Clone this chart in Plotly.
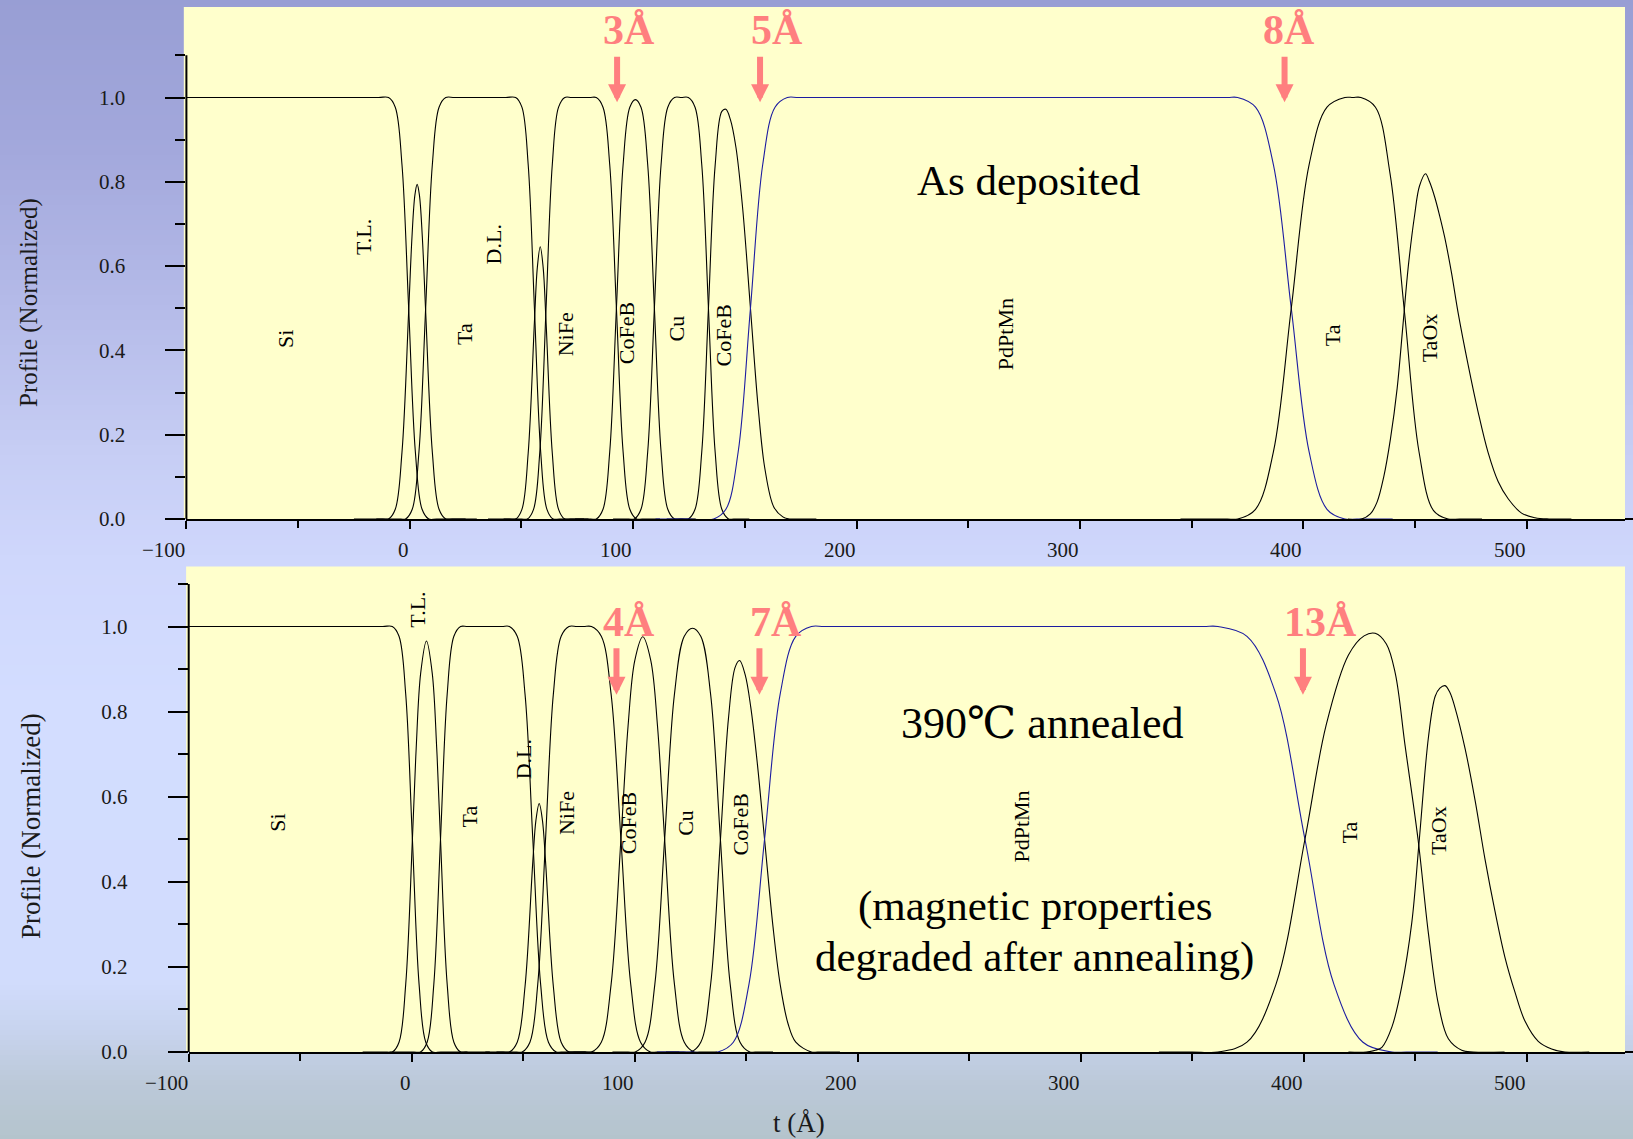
import plotly.graph_objects as go

# ---------------- data : top panel (as deposited) ----------------
TOP_SI_T = [-100, -40, -14, -9.5, -6.5, -3.5, -0.5, 2.5, 5.5, 8.5, 12, 25]
TOP_SI_V = [1, 1, 1, 1, 0.977, 0.841, 0.5, 0.159, 0.023, 0, 0, 0]
TOP_TL_T = [-25, -12, -9.5, -6.5, -3.5, -0.5, 1, 2.3, 3.3, 4.3, 5.6, 7.1, 10.1, 13.1, 16.1, 19, 30]
TOP_TL_V = [0, 0, 0, 0.023, 0.158, 0.493, 0.671, 0.769, 0.794, 0.769, 0.671, 0.493, 0.158, 0.023, 0, 0, 0]
TOP_TA_T = [-15, -4, -1.9, 1.1, 4.1, 7.1, 10.1, 13.1, 16.1, 20, 31, 43, 47.4, 50.2, 53, 55.8, 58.6, 61.4, 64.2, 67, 78]
TOP_TA_V = [0, 0, 0, 0.023, 0.159, 0.5, 0.841, 0.977, 1, 1, 1, 1, 1, 0.977, 0.841, 0.5, 0.159, 0.023, 0, 0, 0]
TOP_DL_T = [35, 44.6, 47.4, 50.2, 53, 55.8, 57.1, 58.4, 59.7, 61, 63.8, 66.6, 69.4, 72, 80]
TOP_DL_V = [0, 0, 0, 0.023, 0.156, 0.468, 0.597, 0.646, 0.597, 0.468, 0.156, 0.023, 0, 0, 0]
TOP_NIFE_T = [42, 50, 52.6, 55.4, 58.2, 61, 63.8, 66.6, 69.4, 72.5, 80.5, 83.5, 86.5, 89.5, 92.5, 95.5, 98.5, 101.5, 104, 112]
TOP_NIFE_V = [0, 0, 0, 0.023, 0.159, 0.5, 0.841, 0.977, 1, 1, 1, 1, 0.977, 0.841, 0.5, 0.159, 0.023, 0, 0, 0]
TOP_COFEB1_T = [74, 81, 83.5, 86.5, 89.5, 92.5, 95.5, 98.5, 101, 103.5, 106.5, 109.5, 112.5, 115.5, 118.5, 121, 128]
TOP_COFEB1_V = [0, 0, 0, 0.023, 0.159, 0.5, 0.841, 0.977, 0.995, 0.977, 0.841, 0.5, 0.159, 0.023, 0, 0, 0]
TOP_CU_T = [91, 98, 100.5, 103.5, 106.5, 109.5, 112.5, 115.5, 118.5, 121.6, 124.7, 127.7, 130.7, 133.7, 136.7, 139.7, 142.7, 145, 152]
TOP_CU_V = [0, 0, 0, 0.023, 0.159, 0.5, 0.841, 0.977, 1, 1, 1, 0.977, 0.841, 0.5, 0.159, 0.023, 0, 0, 0]
TOP_COFEB2_T = [115, 122, 124.7, 127.7, 130.7, 133.7, 136.7, 139.7, 141.5, 143.5, 146, 149, 152.5, 156, 159, 163, 167, 170, 173, 182]
TOP_COFEB2_V = [0, 0, 0, 0.023, 0.159, 0.5, 0.839, 0.967, 0.972, 0.948, 0.882, 0.738, 0.5, 0.262, 0.118, 0.028, 0.005, 0, 0, 0]
TOP_PDPTMN_T = [110, 125, 136, 141.5, 147, 152.5, 158, 163.5, 169, 174, 200, 340, 366, 370.6, 378.6, 386.6, 394.6, 402.6, 410.6, 418.6, 424, 440]
TOP_PDPTMN_V = [0, 0, 0, 0.023, 0.159, 0.5, 0.841, 0.977, 1, 1, 1, 1, 1, 1, 0.977, 0.841, 0.5, 0.159, 0.023, 0, 0, 0]
TOP_TA2_T = [345, 360, 366, 370.6, 378.6, 386.6, 394.6, 402.6, 410.6, 418.6, 422.2, 425.8, 432.3, 438.8, 445.3, 451.8, 458.3, 464.8, 470, 480]
TOP_TA2_V = [0, 0, 0, 0, 0.023, 0.159, 0.5, 0.841, 0.977, 1, 1, 1, 0.977, 0.82, 0.49, 0.159, 0.02, 0, 0, 0]
TOP_TAOX_T = [420, 426, 430, 433, 436, 439, 442, 444.6, 447, 449.8, 452, 454.7, 456.5, 458.8, 461, 463.3, 466.3, 469.3,
              473.8, 478.2, 482.7, 487.2, 491.7, 497.7, 503.7, 510, 520]
TOP_TAOX_V = [0, 0, 0.012, 0.04, 0.10, 0.19, 0.31, 0.46, 0.60, 0.72, 0.79, 0.819, 0.80, 0.764, 0.72, 0.668, 0.585, 0.489,
              0.365, 0.255, 0.158, 0.089, 0.048, 0.014, 0.003, 0, 0]

# ---------------- data : bottom panel (390 C annealed) ----------------
BOT_SI_T = [-100, -40, -13, -8.7, -5.7, -2.7, 0.3, 3.3, 6.3, 9.3, 13, 25]
BOT_SI_V = [1, 1, 1, 1, 0.977, 0.841, 0.5, 0.159, 0.023, 0, 0, 0]
BOT_TL_T = [-22, -11, -8.7, -5.7, -2.7, 0.3, 2, 4, 6.6, 9.2, 11.2, 12.9, 15.9, 18.9, 21.9, 24, 35]
BOT_TL_V = [0, 0, 0, 0.023, 0.159, 0.5, 0.714, 0.890, 0.966, 0.890, 0.714, 0.5, 0.159, 0.023, 0, 0, 0]
BOT_TA_T = [-10, 1, 3.9, 6.9, 9.9, 12.9, 15.9, 18.9, 21.9, 25, 33, 40.5, 43.8, 47.3, 50.8, 54.3, 57.8, 61.3, 64.8, 67, 78]
BOT_TA_V = [0, 0, 0, 0.023, 0.159, 0.5, 0.841, 0.977, 1, 1, 1, 1, 1, 0.977, 0.841, 0.5, 0.159, 0.023, 0, 0, 0]
BOT_DL_T = [33, 41, 43.8, 47.3, 50.8, 54.3, 55.7, 57.15, 58.6, 60, 63.5, 67, 70.5, 73, 82]
BOT_DL_V = [0, 0, 0, 0.023, 0.154, 0.448, 0.545, 0.584, 0.545, 0.448, 0.154, 0.023, 0, 0, 0]
BOT_NIFE_T = [38, 47, 49.5, 53, 56.5, 60, 63.5, 67, 70.5, 74, 77.2, 80.6, 85, 89.4, 93.8, 98.2, 102.6, 107, 110, 120]
BOT_NIFE_V = [0, 0, 0, 0.023, 0.159, 0.5, 0.841, 0.977, 1, 1, 1, 1, 0.977, 0.841, 0.5, 0.159, 0.023, 0, 0, 0]
BOT_COFEB1_T = [70, 78, 80.6, 85, 89.4, 93.8, 97, 100, 103.6, 107.2, 110.2, 113.4, 117.8, 122.2, 126.6, 129, 137]
BOT_COFEB1_V = [0, 0, 0, 0.023, 0.159, 0.5, 0.766, 0.920, 0.976, 0.920, 0.766, 0.5, 0.159, 0.023, 0, 0, 0]
BOT_CU_T = [90, 97, 100.2, 104.6, 109, 113.4, 117.8, 122.2, 125.9, 129.6, 134, 138.4, 142.8, 147.2, 151.6, 154, 162]
BOT_CU_V = [0, 0, 0, 0.023, 0.159, 0.5, 0.841, 0.977, 0.996, 0.977, 0.841, 0.5, 0.159, 0.023, 0, 0, 0]
BOT_COFEB2_T = [114, 122, 125.2, 129.6, 134, 138.4, 142, 145, 147, 149.5, 152, 155, 158.2, 162, 165.2, 168.7, 172.2, 179.2, 182, 192]
BOT_COFEB2_V = [0, 0, 0, 0.023, 0.158, 0.498, 0.783, 0.904, 0.920, 0.887, 0.811, 0.676, 0.5, 0.294, 0.159, 0.067, 0.023, 0, 0, 0]
BOT_PDPTMN_T = [110, 125, 137.2, 144.2, 151.2, 158.2, 165.2, 172.2, 179.2, 185, 210, 330, 355, 361.5, 374.5, 387.5, 400.5, 413.5, 426.5, 439.5, 446, 460]
BOT_PDPTMN_V = [0, 0, 0, 0.023, 0.159, 0.5, 0.841, 0.977, 1, 1, 1, 1, 1, 1, 0.977, 0.841, 0.5, 0.159, 0.023, 0, 0, 0]
BOT_TA2_T = [335, 350, 361.5, 374.5, 387.5, 400.5, 410, 420, 427, 432, 437, 441, 445.4, 451.2, 455.9, 460.3, 464.8, 470.8, 476, 490]
BOT_TA2_V = [0, 0, 0, 0.023, 0.159, 0.5, 0.768, 0.933, 0.978, 0.984, 0.959, 0.89, 0.72, 0.5, 0.277, 0.113, 0.031, 0.004, 0, 0]
BOT_TAOX_T = [420, 428, 432, 435, 439.5, 443.9, 448.4, 451.7, 455.9, 458.9, 461, 463.3, 465.5, 467.8, 472.3, 476.8,
              481.2, 485.7, 490.2, 494.7, 499.2, 505.1, 511.1, 517.1, 528]
BOT_TAOX_V = [0, 0, 0.004, 0.011, 0.059, 0.154, 0.304, 0.495, 0.741, 0.836, 0.855, 0.861, 0.845, 0.809, 0.713, 0.591,
              0.454, 0.331, 0.222, 0.14, 0.072, 0.025, 0.007, 0, 0]

# ---------------- labels ----------------
TOP_LAYER_NAMES = ["Si", "T.L.", "Ta", "D.L.", "NiFe", "CoFeB", "Cu", "CoFeB", "PdPtMn", "Ta", "TaOx"]
TOP_LAYER_T = [-55.9, -20.7, 24.7, 37.6, 70.1, 97.1, 119.2, 140.6, 267, 413, 456.5]
TOP_LAYER_V = [0.427, 0.668, 0.439, 0.651, 0.439, 0.44, 0.452, 0.435, 0.439, 0.437, 0.43]
BOT_LAYER_NAMES = ["Si", "T.L.", "Ta", "D.L.", "NiFe", "CoFeB", "Cu", "CoFeB", "PdPtMn", "Ta", "TaOx"]
BOT_LAYER_T = [-60.2, 2.7, 26, 49.9, 69.7, 97.3, 122.6, 147.2, 273.4, 420.5, 460.6]
BOT_LAYER_V = [0.540, 1.039, 0.553, 0.688, 0.562, 0.537, 0.539, 0.535, 0.531, 0.515, 0.522]

TOP_ROUGH_TEXT = ["3Å", "5Å", "8Å"]
TOP_ROUGH_TEXT_T = [98.3, 164.4, 393.8]
TOP_ARROW_T = [92.8, 156.8, 391.6]
BOT_ROUGH_TEXT = ["4Å", "7Å", "13Å"]
BOT_ROUGH_TEXT_T = [97.6, 163.5, 407.5]
BOT_ARROW_T = [91.8, 155.9, 399.6]

X_TICKS = [-100, 0, 100, 200, 300, 400, 500]
X_TICK_TEXT = ["−100", "0", "100", "200", "300", "400", "500"]
X_MINOR = [-50, 50, 150, 250, 350, 450]
Y_TICKS = [0, 0.2, 0.4, 0.6, 0.8, 1.0]
Y_TICK_TEXT = ["0.0", "0.2", "0.4", "0.6", "0.8", "1.0"]
Y_MINOR = [0.1, 0.3, 0.5, 0.7, 0.9, 1.1]

# ---------------- styling ----------------
W, H = 1633, 1139
SERIF = "Liberation Serif, 'Times New Roman', DejaVu Serif, 'Noto Sans CJK JP', serif"
YELLOW = "#ffffcc"
RED = "#ff7f7f"
BLUE = "#1c1ca0"
X_RANGE = [-100, 544]
TOP_YTOP = 1.2147
BOT_YTOP = 1.1408
TOP_DOM_X = [186.4 / W, 1625 / W]
TOP_DOM_Y = [(H - 519) / H, (H - 7) / H]
BOT_DOM_X = [188.7 / W, 1625 / W]
BOT_DOM_Y = [(H - 1052) / H, (H - 566.6) / H]

fig = go.Figure()

top_curves = [(TOP_SI_T, TOP_SI_V, "black"), (TOP_TL_T, TOP_TL_V, "black"), (TOP_TA_T, TOP_TA_V, "black"),
              (TOP_DL_T, TOP_DL_V, "black"), (TOP_NIFE_T, TOP_NIFE_V, "black"), (TOP_COFEB1_T, TOP_COFEB1_V, "black"),
              (TOP_CU_T, TOP_CU_V, "black"), (TOP_COFEB2_T, TOP_COFEB2_V, "black"), (TOP_PDPTMN_T, TOP_PDPTMN_V, BLUE),
              (TOP_TA2_T, TOP_TA2_V, "black"), (TOP_TAOX_T, TOP_TAOX_V, "black")]
bot_curves = [(BOT_SI_T, BOT_SI_V, "black"), (BOT_TL_T, BOT_TL_V, "black"), (BOT_TA_T, BOT_TA_V, "black"),
              (BOT_DL_T, BOT_DL_V, "black"), (BOT_NIFE_T, BOT_NIFE_V, "black"), (BOT_COFEB1_T, BOT_COFEB1_V, "black"),
              (BOT_CU_T, BOT_CU_V, "black"), (BOT_COFEB2_T, BOT_COFEB2_V, "black"), (BOT_PDPTMN_T, BOT_PDPTMN_V, BLUE),
              (BOT_TA2_T, BOT_TA2_V, "black"), (BOT_TAOX_T, BOT_TAOX_V, "black")]

for t, v, c in top_curves:
    fig.add_trace(go.Scatter(x=t, y=v, mode="lines", xaxis="x", yaxis="y",
                             line=dict(color=c, width=1.1, shape="spline", smoothing=1.0),
                             hoverinfo="skip", showlegend=False, cliponaxis=False))
for t, v, c in bot_curves:
    fig.add_trace(go.Scatter(x=t, y=v, mode="lines", xaxis="x2", yaxis="y2",
                             line=dict(color=c, width=1.1, shape="spline", smoothing=1.0),
                             hoverinfo="skip", showlegend=False, cliponaxis=False))

# ---------------- background gradient + yellow panels ----------------
BG_STOP_Y = [0, 150, 300, 450, 560, 700, 980, 1030, 1080, 1139]
BG_STOP_RGB = [(152, 158, 212), (163, 168, 220), (180, 186, 232), (198, 205, 244), (207, 215, 252),
               (211, 221, 255), (209, 220, 253), (200, 212, 238), (188, 201, 218), (180, 196, 204)]


def bg_color(y):
    for i in range(len(BG_STOP_Y) - 1):
        if BG_STOP_Y[i] <= y <= BG_STOP_Y[i + 1]:
            f = (y - BG_STOP_Y[i]) / (BG_STOP_Y[i + 1] - BG_STOP_Y[i])
            a, b = BG_STOP_RGB[i], BG_STOP_RGB[i + 1]
            return "rgb(%d,%d,%d)" % tuple(round(a[k] + (b[k] - a[k]) * f) for k in range(3))
    return "rgb(%d,%d,%d)" % BG_STOP_RGB[-1]


shapes = []
STEP = 5
for y in range(0, H, STEP):
    shapes.append(dict(type="rect", xref="paper", yref="paper", x0=0, x1=1,
                       y0=max(0, 1 - (y + STEP + 1) / H), y1=1 - y / H,
                       fillcolor=bg_color(y + STEP / 2), line=dict(width=0), layer="below"))

for xr, yr in (("x", "y"), ("x2", "y2")):
    shapes.append(dict(type="rect", xref=xr + " domain", yref=yr + " domain", x0=-0.0018, x1=1, y0=0, y1=1,
                       fillcolor=YELLOW, line=dict(width=0), layer="below"))

# y-axis lines only up to 1.1, x-axis line extension to right edge
for xr, yr, ytop in (("x", "y", TOP_YTOP), ("x2", "y2", BOT_YTOP)):
    shapes.append(dict(type="line", xref=xr + " domain", yref=yr + " domain", x0=0, x1=0,
                       y0=0, y1=1.1 / ytop, line=dict(color="black", width=2), layer="above"))
    shapes.append(dict(type="line", xref="paper", yref=yr + " domain", x0=1625 / W, x1=1,
                       y0=0, y1=0, line=dict(color="black", width=2), layer="above"))

# ---------------- annotations ----------------
ann = []
tick_font = dict(family=SERIF, size=21, color="#1a1a1a")
for xr, yr in (("x", "y"), ("x2", "y2")):
    for tv, tt in zip(X_TICKS, X_TICK_TEXT):
        ann.append(dict(x=tv, y=0, xref=xr, yref=yr + " domain", text=tt, showarrow=False,
                        xanchor="right", yanchor="middle", yshift=-31, xshift=1, font=tick_font))

label_font = dict(family=SERIF, size=22, color="black")
for names, ts, vs, xr, yr in ((TOP_LAYER_NAMES, TOP_LAYER_T, TOP_LAYER_V, "x", "y"),
                              (BOT_LAYER_NAMES, BOT_LAYER_T, BOT_LAYER_V, "x2", "y2")):
    for n, t, v in zip(names, ts, vs):
        ann.append(dict(x=t, y=v, xref=xr, yref=yr, text=n, textangle=-90, showarrow=False,
                        xanchor="center", yanchor="middle", font=label_font))

red_font = dict(family=SERIF, size=42, color=RED)
for txt, tt in zip(TOP_ROUGH_TEXT, TOP_ROUGH_TEXT_T):
    ann.append(dict(x=tt, y=1.161, xref="x", yref="y", text="<b>%s</b>" % txt, showarrow=False,
                    xanchor="center", yanchor="middle", font=red_font))
for ta in TOP_ARROW_T:
    ann.append(dict(x=ta, y=0.989, xref="x", yref="y", text="", showarrow=True, arrowhead=2,
                    arrowsize=0.6, arrowwidth=6, arrowcolor=RED, ax=0, ay=-47, standoff=0))
for txt, tt in zip(BOT_ROUGH_TEXT, BOT_ROUGH_TEXT_T):
    ann.append(dict(x=tt, y=1.01, xref="x2", yref="y2", text="<b>%s</b>" % txt, showarrow=False,
                    xanchor="center", yanchor="middle", font=red_font))
for ta in BOT_ARROW_T:
    ann.append(dict(x=ta, y=0.8395, xref="x2", yref="y2", text="", showarrow=True, arrowhead=2,
                    arrowsize=0.6, arrowwidth=6, arrowcolor=RED, ax=0, ay=-48, standoff=0))

big_font = dict(family=SERIF, size=43, color="black")
ann.append(dict(x=277, y=0.804, xref="x", yref="y", text="As deposited", showarrow=False,
                xanchor="center", yanchor="middle", font=big_font))
ann.append(dict(x=282.6, y=0.771, xref="x2", yref="y2", text="390℃ annealed", showarrow=False,
                xanchor="center", yanchor="middle", font=dict(family=SERIF, size=44, color="black")))
ann.append(dict(x=279.5, y=0.344, xref="x2", yref="y2", text="(magnetic properties", showarrow=False,
                xanchor="center", yanchor="middle", font=big_font))
ann.append(dict(x=279.4, y=0.223, xref="x2", yref="y2", text="degraded after annealing)", showarrow=False,
                xanchor="center", yanchor="middle", font=big_font))

ann.append(dict(x=29 / W, y=(H - 303) / H, xref="paper", yref="paper", text="Profile (Normalized)",
                textangle=-90, showarrow=False, xanchor="center", yanchor="middle",
                font=dict(family=SERIF, size=25, color="#1a1a1a")))
ann.append(dict(x=31 / W, y=(H - 826) / H, xref="paper", yref="paper", text="Profile (Normalized)",
                textangle=-90, showarrow=False, xanchor="center", yanchor="middle",
                font=dict(family=SERIF, size=27, color="#1a1a1a")))
ann.append(dict(x=799 / W, y=(H - 1123) / H, xref="paper", yref="paper", text="t (Å)",
                showarrow=False, xanchor="center", yanchor="middle",
                font=dict(family=SERIF, size=27, color="#1a1a1a")))


def xaxis(domain, anchor):
    return dict(domain=domain, anchor=anchor, range=X_RANGE, showgrid=False, zeroline=False,
                automargin=False,
                showline=True, linecolor="black", linewidth=2, ticks="outside", ticklen=8,
                tickwidth=1.5, tickcolor="black", tickvals=X_TICKS, showticklabels=False,
                minor=dict(tickvals=X_MINOR, ticks="outside", ticklen=7, tickwidth=1.5, tickcolor="black"))


def yaxis(domain, anchor, ytop):
    return dict(domain=domain, anchor=anchor, range=[0, ytop], showgrid=False, zeroline=False,
                automargin=False,
                showline=False, ticks="outside", ticklen=20, tickwidth=1.5, tickcolor="black",
                tickvals=Y_TICKS, ticktext=Y_TICK_TEXT, tickfont=tick_font, ticklabelstandoff=36,
                minor=dict(tickvals=Y_MINOR, ticks="outside", ticklen=10, tickwidth=1.5, tickcolor="black"))


fig.update_layout(
    template="none",
    width=W, height=H, autosize=False,
    margin=dict(l=0, r=0, t=0, b=0, pad=0, autoexpand=False),
    paper_bgcolor="rgb(185,198,215)",
    plot_bgcolor="rgba(0,0,0,0)",
    showlegend=False, hovermode=False,
    xaxis=xaxis(TOP_DOM_X, "y"),
    yaxis=yaxis(TOP_DOM_Y, "x", TOP_YTOP),
    xaxis2=xaxis(BOT_DOM_X, "y2"),
    yaxis2=yaxis(BOT_DOM_Y, "x2", BOT_YTOP),
    shapes=shapes,
    annotations=ann,
)

fig.write_html("out.html", config={"displayModeBar": False},
               post_script="document.body.style.margin='0';document.body.style.overflow='hidden';")
